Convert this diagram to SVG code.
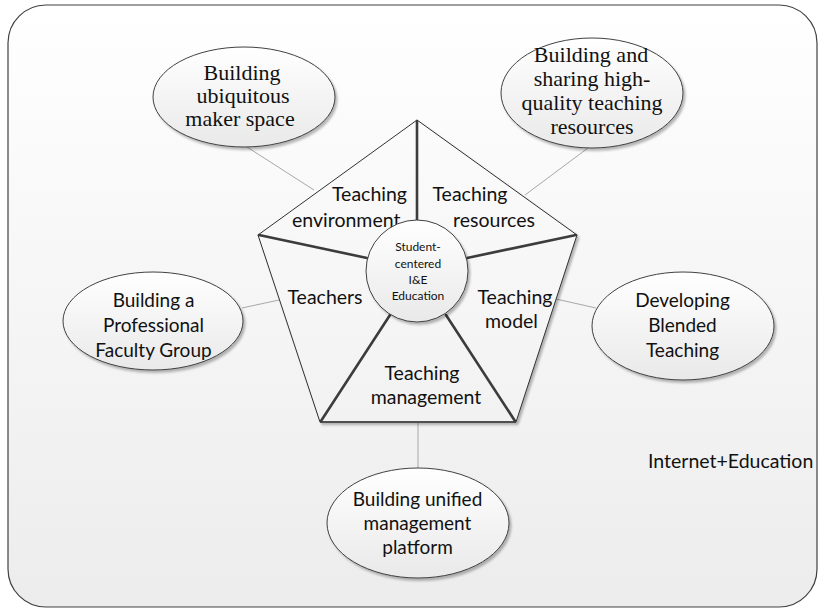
<svg xmlns="http://www.w3.org/2000/svg" width="818" height="612" viewBox="0 0 818 612">
  <defs>
    <linearGradient id="bgGrad" x1="0" y1="0" x2="0" y2="612" gradientUnits="userSpaceOnUse">
      <stop offset="0" stop-color="#ffffff"/>
      <stop offset="1" stop-color="#ececec"/>
    </linearGradient>
    <linearGradient id="nodeGrad" x1="0" y1="0" x2="0" y2="1">
      <stop offset="0" stop-color="#ffffff"/>
      <stop offset="1" stop-color="#e9e9e9"/>
    </linearGradient>
    <filter id="shadow" x="-10%" y="-10%" width="130%" height="130%">
      <feDropShadow dx="2" dy="2.5" stdDeviation="1.2" flood-color="#000000" flood-opacity="0.28"/>
    </filter>
  </defs>
  <style>
    .frame { fill: url(#bgGrad); stroke: #404040; stroke-width: 1.2; }
    .link { stroke: #a8a8a8; stroke-width: 1; fill: none; }
    .penta { fill: url(#bgGrad); stroke: #303030; stroke-width: 1; filter: url(#shadow); }
    .divider { stroke: #3c3c3c; stroke-width: 2.6; stroke-linecap: round; fill: none; }
    .base { stroke: #505050; stroke-width: 2; fill: none; }
    .node { fill: url(#nodeGrad); stroke: #404040; stroke-width: 1; filter: url(#shadow); }
    .serif { font-family: "Liberation Serif", "Times New Roman", serif; font-size: 22px; fill: #111111; text-anchor: middle; }
    .sans { font-family: Lato, "Liberation Sans", sans-serif; font-size: 19px; fill: #111111; text-anchor: middle; }
    .seg { font-family: Lato, "Liberation Sans", sans-serif; font-size: 19.5px; fill: #111111; }
    .core { font-family: Lato, "Liberation Sans", sans-serif; font-size: 12px; fill: #111111; text-anchor: middle; }
  </style>

  <!-- outer rounded frame -->
  <g id="frame">
    <rect class="frame" x="8" y="5" width="809" height="602" rx="38" ry="38"/>
  </g>

  <!-- connectors from the pentagon to the outer nodes -->
  <g id="connectors">
    <line class="link" x1="247" y1="147" x2="314" y2="190"/>
    <line class="link" x1="588" y1="148" x2="525" y2="195"/>
    <line class="link" x1="242" y1="308" x2="279" y2="300"/>
    <line class="link" x1="556" y1="299" x2="596" y2="308"/>
    <line class="link" x1="418" y1="423" x2="418" y2="468"/>
  </g>

  <!-- central pentagon with its five segments -->
  <g id="pentagon">
    <polygon class="penta" points="417,120 577,235 516,422 320,422 258,235"/>
    <line class="base" x1="320" y1="422" x2="516" y2="422"/>
    <line class="divider" x1="417" y1="121" x2="417" y2="221"/>
    <line class="divider" x1="259" y1="235" x2="367" y2="258"/>
    <line class="divider" x1="576" y1="235" x2="467" y2="258"/>
    <line class="divider" x1="321" y1="421" x2="390" y2="315"/>
    <line class="divider" x1="515" y1="421" x2="446" y2="315"/>
  </g>

  <g id="seg-environment">
    <text class="seg" x="369.5" y="201" text-anchor="middle">Teaching</text>
    <text class="seg" x="292" y="227">environment</text>
  </g>
  <g id="seg-resources">
    <text class="seg" x="470" y="201" text-anchor="middle">Teaching</text>
    <text class="seg" x="494" y="227" text-anchor="middle">resources</text>
  </g>
  <g id="seg-teachers">
    <text class="seg" x="325" y="304" text-anchor="middle">Teachers</text>
  </g>
  <g id="seg-model">
    <text class="seg" x="515" y="304" text-anchor="middle">Teaching</text>
    <text class="seg" x="511.5" y="328" text-anchor="middle">model</text>
  </g>
  <g id="seg-management">
    <text class="seg" x="422" y="380" text-anchor="middle">Teaching</text>
    <text class="seg" x="426" y="404" text-anchor="middle">management</text>
  </g>

  <!-- core circle -->
  <g id="core">
    <circle class="node" cx="417" cy="271" r="51"/>
    <text class="core" x="418" y="251">Student-</text>
    <text class="core" x="418" y="267.5">centered</text>
    <text class="core" x="418" y="283.5">I&amp;E</text>
    <text class="core" x="418" y="299.5">Education</text>
  </g>

  <!-- outer nodes -->
  <g id="node-maker-space">
    <ellipse class="node" cx="244" cy="97" rx="91" ry="50"/>
    <text class="serif" x="242" y="80">Building</text>
    <text class="serif" x="243" y="103">ubiquitous</text>
    <text class="serif" x="240" y="126">maker space</text>
  </g>

  <g id="node-resources">
    <ellipse class="node" cx="592" cy="93" rx="91" ry="55"/>
    <text class="serif" x="591" y="62">Building and</text>
    <text class="serif" x="592" y="86">sharing high-</text>
    <text class="serif" x="592" y="110">quality teaching</text>
    <text class="serif" x="592" y="134">resources</text>
  </g>

  <g id="node-faculty">
    <ellipse class="node" cx="153" cy="321" rx="90" ry="49"/>
    <text class="sans" x="153.5" y="307">Building a</text>
    <text class="sans" x="153.5" y="332">Professional</text>
    <text class="sans" x="153.5" y="357">Faculty Group</text>
  </g>

  <g id="node-blended">
    <ellipse class="node" cx="683" cy="326" rx="91" ry="54"/>
    <text class="sans" x="682.5" y="307">Developing</text>
    <text class="sans" x="682.5" y="332">Blended</text>
    <text class="sans" x="682.5" y="357">Teaching</text>
  </g>

  <g id="node-platform">
    <ellipse class="node" cx="418" cy="523" rx="91" ry="55"/>
    <text class="sans" x="417.5" y="506">Building unified</text>
    <text class="sans" x="417.5" y="530">management</text>
    <text class="sans" x="417.5" y="554">platform</text>
  </g>

  <g id="caption">
    <text class="seg" x="648" y="468">Internet+Education</text>
  </g>
</svg>
